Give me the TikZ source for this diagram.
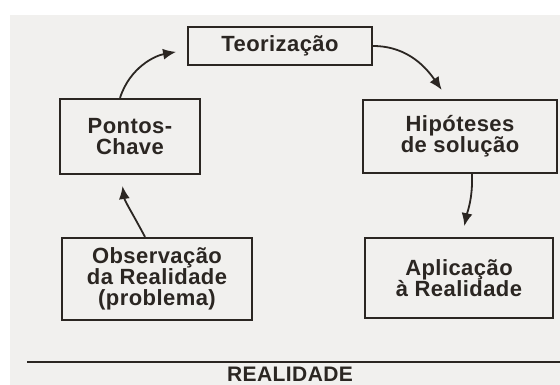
\documentclass[tikz,border=0pt]{standalone}
\usepackage{fontspec}
\usepackage{tikz}
\usetikzlibrary{arrows.meta}
\newfontfamily\boxfont[LetterSpace=2]{Liberation Sans}
\definecolor{ink}{HTML}{2B2622}
\definecolor{paper}{HTML}{F1F0EE}
\tikzstyle{step_box} = [
    rectangle,
    draw=ink,
    text=ink,
    line width=2.2pt,
    align=center,
    inner sep=0pt,
    font=\boxfont\bfseries\fontsize{22}{21}\selectfont
]
\tikzstyle{flow} = [
    draw=ink,
    line width=1.8pt,
    -{Latex[length=13pt,width=11pt]}, % filled heads as in print
    shorten >=11pt
]

\begin{document}
\begin{tikzpicture}[x=1pt, y=-1pt]
\useasboundingbox (0,0) rectangle (560,385);
\fill[paper] (10,15) rectangle (560,385);

\node [step_box, minimum width=184pt, minimum height=38pt] (teoriz) at (280,46) {Teorização};
\node [step_box, minimum width=140pt, minimum height=75pt] (pontos) at (130,136.5) {Pontos-\\Chave};
\node [step_box, minimum width=194pt, minimum height=73pt] (hipot) at (460,136.5) {Hipóteses\\de solução};
\node [step_box, minimum width=190pt, minimum height=82pt] (observ) at (157,279) {Observação\\da Realidade\\(problema)};
\node [step_box, minimum width=188pt, minimum height=80pt] (aplic) at (459,278) {Aplicação\\à Realidade};

\draw [flow] ([xshift=-12pt]observ.north) to[out=118, in=-82] ([xshift=-9pt]pontos.south);
\draw [flow] ([xshift=-10pt]pontos.north) to[out=72, in=190] ([yshift=-4pt]teoriz.west);
\draw [flow] (teoriz.east) to[out=0, in=125] ([xshift=-12pt]hipot.north);
\draw [flow] ([xshift=12pt]hipot.south) to[out=-88, in=78] ([xshift=3pt]aplic.north);

\coordinate (ground_l) at (27,362);
\coordinate (ground_r) at (560,362);
\draw [ink, line width=1.8pt] (ground_l) -- (ground_r);
\node [text=ink, font=\boxfont\bfseries\fontsize{21}{20}\selectfont, inner sep=0pt, anchor=base] (realidade) at (290,381) {REALIDADE};
\end{tikzpicture}
\end{document}
